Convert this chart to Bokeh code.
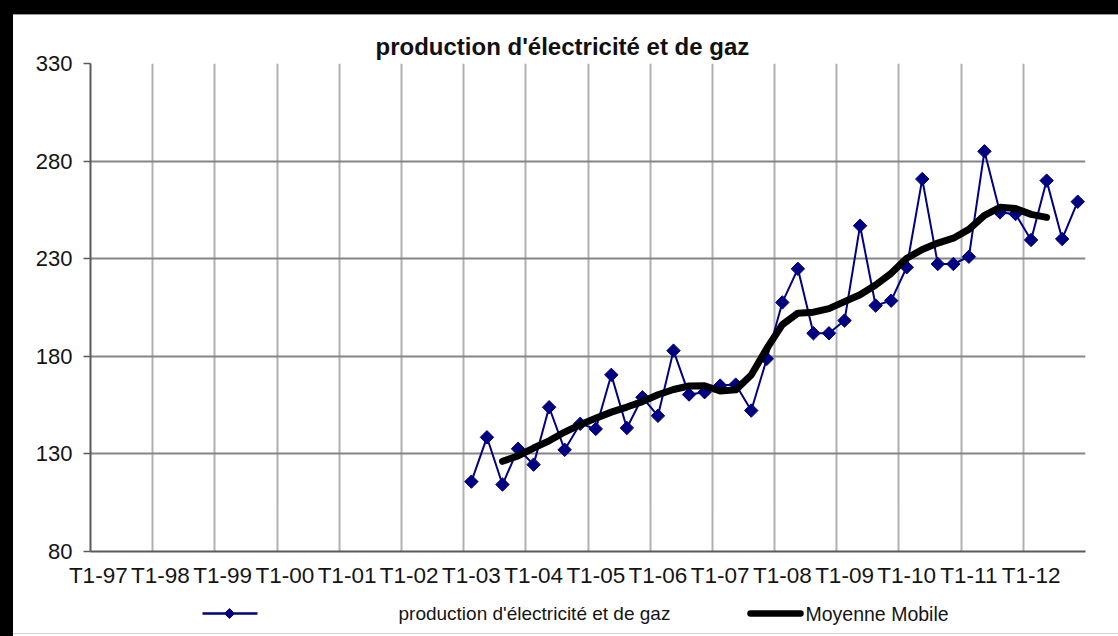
from bokeh.plotting import figure
from bokeh.models import Range1d, FixedTicker, GlobalInlineStyleSheet
from bokeh.layouts import column
from bokeh.core.properties import value
from bokeh.embed import file_html
from bokeh.resources import INLINE

# ---------------- data ----------------
years = ["97", "98", "99", "00", "01", "02", "03", "04",
         "05", "06", "07", "08", "09", "10", "11", "12"]
quarter_names = ["T1", "T2", "T3", "T4"]
quarters = [f"{q}-{y}" for y in years for q in quarter_names]

title_text = "production d'électricité et de gaz"
series_name = "production d'électricité et de gaz"
ma_name = "Moyenne Mobile"

production_start = "T1-03"
production = [115.8, 138.5, 114.3, 132.6, 124.5, 153.9, 132.1, 145.4,
              142.8, 170.5, 143.3, 159.0, 149.5, 182.9, 160.4, 161.6,
              165.0, 165.5, 152.2, 178.7, 207.6, 224.8, 191.8, 191.8,
              198.3, 246.9, 206.0, 208.5, 225.6, 270.8, 227.3, 227.3,
              231.0, 285.0, 253.7, 252.9, 239.6, 270.0, 240.1, 259.2]

ma_start = "T3-03"
moving_avg = [126.2, 129.0, 133.0, 136.7, 141.2, 145.0, 148.3, 151.4,
              154.0, 156.8, 160.3, 163.0, 164.8, 164.9, 162.2, 162.8,
              170.4, 184.0, 196.2, 202.1, 202.6, 204.4, 208.0, 211.5,
              216.5, 222.5, 230.2, 234.7, 238.0, 240.5, 245.0, 252.2,
              256.3, 255.7, 252.7, 251.2]

y_ticks = [80, 130, 180, 230, 280, 330]

# ---------------- positions ----------------
p0 = quarters.index(production_start)
x_prod = [p0 + i + 0.5 for i in range(len(production))]
m0 = quarters.index(ma_start)
x_ma = [m0 + i + 0.5 for i in range(len(moving_avg))]

label_ticks = [i + 0.5 for i, q in enumerate(quarters) if q.startswith("T1")]
label_over = {i + 0.5: q for i, q in enumerate(quarters) if q.startswith("T1")}
grid_ticks = [i for i in range(0, len(quarters) + 1, 4)]

FONT = "Liberation Sans"
NAVY = "#000080"
TXT = "#141414"

W = 1110
LEFT, RIGHT = 90, 25
p = figure(width=W, height=595, output_backend="svg", toolbar_location=None,
           x_range=Range1d(0, len(quarters)), y_range=Range1d(80, 330),
           min_border_left=LEFT, min_border_right=RIGHT, min_border_top=63,
           min_border_bottom=44, border_fill_color=None,
           background_fill_color="white", outline_line_color=None)

# title
p.title.text = title_text
p.title.align = "left"
p.title.offset = 285
p.title.standoff = 8
p.title.text_font = FONT
p.title.text_font_size = "24px"
p.title.text_font_style = "bold"
p.title.text_color = "#111111"

# grids
p.xgrid.ticker = FixedTicker(ticks=grid_ticks)
p.xgrid.grid_line_color = "#b0b0b0"
p.xgrid.grid_line_width = 2
p.ygrid.ticker = FixedTicker(ticks=y_ticks)
p.ygrid.grid_line_color = "#858585"
p.ygrid.grid_line_width = 2

# axes
p.xaxis.ticker = FixedTicker(ticks=label_ticks)
p.xaxis.major_label_overrides = label_over
p.xaxis.major_tick_out = 0
p.xaxis.major_tick_in = 0
p.xaxis.minor_tick_out = 0
p.xaxis.minor_tick_in = 0
p.xaxis.major_label_standoff = 11
p.xaxis.major_label_text_font_size = "22.5px"
p.yaxis.ticker = FixedTicker(ticks=y_ticks)
p.yaxis.major_tick_out = 7
p.yaxis.major_tick_in = 0
p.yaxis.minor_tick_out = 0
p.yaxis.minor_tick_in = 0
p.yaxis.major_label_standoff = 11
p.yaxis.major_label_text_font_size = "22px"
for ax in (p.xaxis, p.yaxis):
    ax.axis_line_color = "#5a5a5a"
    ax.axis_line_width = 2
    ax.major_tick_line_color = "#5a5a5a"
    ax.major_tick_line_width = 1.5
    ax.major_label_text_font = FONT
    ax.major_label_text_color = TXT

# series
p.line(x_prod, production, line_color=NAVY, line_width=2)
p.scatter(x_prod, production, marker="square", size=9.5, angle=0.785398,
          fill_color=NAVY, line_color=NAVY)
p.line(x_ma, moving_avg, line_color="black", line_width=7,
       line_cap="round", line_join="round")

# ---------------- legend strip (x in page pixels) ----------------
lg = figure(width=W, height=41, output_backend="svg", toolbar_location=None,
            x_range=Range1d(LEFT, W - RIGHT), y_range=Range1d(0, 41),
            x_axis_type=None, y_axis_type=None,
            min_border_left=LEFT, min_border_right=RIGHT, min_border_top=0,
            min_border_bottom=0, border_fill_color=None,
            background_fill_color=None, outline_line_color=None)
lg.grid.visible = False
ly = 23
lg.line([202, 257], [ly, ly], line_color=NAVY, line_width=2.5)
lg.scatter([229], [ly], marker="square", size=7, angle=0.785398,
           fill_color=NAVY, line_color=NAVY)
lg.text([398], [ly], text=[series_name], text_baseline="middle",
        text_font=value(FONT), text_font_size="19px", text_color=TXT)
lg.line([750, 800], [ly, ly], line_color="black", line_width=6.5,
        line_cap="round")
lg.text([805], [ly], text=[ma_name], text_baseline="middle",
        text_font=value(FONT), text_font_size="19.5px", text_color=TXT)

css = """
html { background-color: #fff;
  background-image: linear-gradient(#000,#000), linear-gradient(#000,#000),
                    linear-gradient(#9a9a9a,#9a9a9a), linear-gradient(#cfcfcf,#cfcfcf);
  background-size: 100% 14px, 13px 100%, 100% 1px, 100% 1px;
  background-position: 0 0, 0 0, 13px 14px, 0 633px;
  background-repeat: no-repeat; }
body { background: transparent; }
"""
layout = column(p, lg, spacing=0)
layout.stylesheets = [GlobalInlineStyleSheet(css=css)]

open("out.html", "w").write(file_html(layout, INLINE))
